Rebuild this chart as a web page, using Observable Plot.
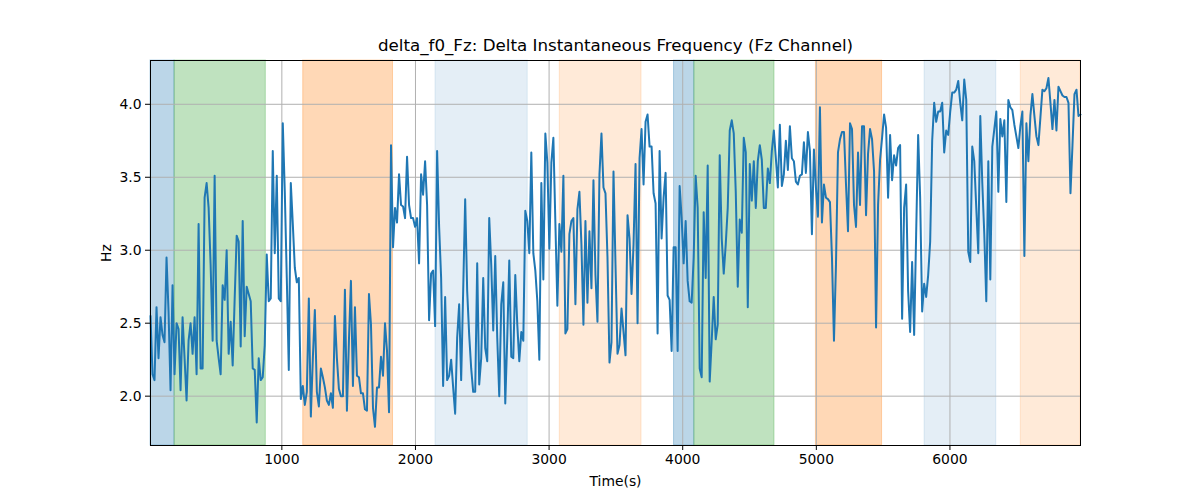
<!DOCTYPE html>
<html>
<head>
<meta charset="utf-8">
<script src="https://cdn.jsdelivr.net/npm/d3@7"></script>
<script src="https://cdn.jsdelivr.net/npm/@observablehq/plot@0.6"></script>
<style>
  html, body { margin: 0; padding: 0; background: white; }
  #chart { width: 1200px; height: 500px; }
</style>
</head>
<body>
<div id="chart"></div>
<script>
// Sampling grid of the recording (seconds)
const startTime = 17;
const sampleStep = 15;

// Delta instantaneous frequency (Hz), in six consecutive stretches
const seg1 = [2.55,2.15,2.11,2.61,2.26,2.54,2.42,2.37,2.95,2.58,2.04,2.76,2.15,2.5,2.46,2.04,2.54,2.26,1.97,2.38,2.5,2.29,2.54,2.15,3.18,2.19,2.19,3.36,3.46,3.29,2.90,2.38,3.51,2.38,2.26,2.15,2.76,2.66,3.0,2.29,2.51,2.21,2.67,3.10,3.06,2.34,3.20,2.41,2.75,2.70,2.65,2.19,2.18,1.82,2.26,2.11,2.13,2.35,2.97,2.65,2.67,3.68,2.98,3.51,2.67,2.65,3.87,3.40,2.81,2.18,3.46,3.18,2.88,2.78,2.81,1.98,2.07,1.94];
const seg2 = [2.03,2.67,1.86,2.26,2.59,2.03,1.93,2.19,2.13,2.06,1.97,1.94,2.02,1.92,2.55,2.26,2.05,2.0,2.0,2.73,1.90,2.38,2.79,2.07,2.61,2.14,2.13,2.02,2.02,1.91,1.90,2.70,2.49,1.92,1.79,2.06,2.06,2.27,2.14,2.50,2.31,1.89,3.72,3.02,3.29,3.19,3.52,3.31,3.30,3.22,3.64,3.31,3.22,3.22,3.16,3.22,2.91,3.52,3.38,3.61,3.31,2.52,2.84,2.86,2.48,3.68,3.16,2.81,2.07,2.68,2.11,2.14,2.25,2.06,1.88,2.40];
const seg3 = [2.63,2.11,2.72,3.35,2.72,2.42,2.19,2.03,2.03,2.91,2.08,2.26,2.81,2.33,2.24,3.22,2.90,2.45,2.96,2.40,2.0,2.63,2.78,1.95,2.40,2.93,2.27,2.26,2.83,2.49,2.24,2.44,2.38,3.27,3.20,2.98,3.67,2.98,2.86,2.65,2.25,3.46,2.80,3.80,3.60,3.01,3.60,3.77,3.19,2.62,3.18,2.99,3.51,2.43,2.46,3.11,3.20,3.22,2.63,3.28,3.40,3.04,2.49,3.20,2.64,3.13,2.74,3.48,2.83,2.51,3.52,3.80,3.43,3.39,2.95,2.23];
const seg4 = [2.37,3.54,2.90,2.29,2.35,2.60,2.44,2.28,3.24,3.08,2.70,3.04,3.59,2.50,3.63,3.83,3.45,3.88,3.93,3.71,3.71,3.39,3.32,2.43,3.68,3.08,3.36,3.53,2.69,2.66,2.31,3.02,3.02,2.31,3.44,3.22,2.91,3.20,2.79,2.65,2.64,2.95,3.51,3.29,2.19,2.13,3.26,2.81,3.58,2.10,2.38,2.68,2.39,2.49,3.65,3.08,2.84,3.04,3.29,3.82,3.89,3.80,3.40,2.75,3.21,3.12,3.77,3.67,2.61,3.59,3.34,3.61,3.29,3.61,3.72,3.62];
const seg5 = [3.29,3.29,3.56,3.46,3.68,3.82,3.63,3.43,3.86,3.44,3.52,3.75,3.55,3.85,3.63,3.61,3.47,3.45,3.51,3.52,3.74,3.53,3.81,3.68,3.11,3.69,3.43,3.23,3.98,3.19,3.45,3.36,3.35,3.33,2.95,2.38,2.90,3.67,3.76,3.81,3.81,3.45,3.13,3.87,3.83,3.31,3.16,3.67,3.31,3.85,3.85,3.24,3.66,3.83,3.76,3.54,2.47,3.31,3.62,3.77,3.93,3.84,3.36,3.79,3.48,3.65,3.58,3.70,3.72,2.53,3.29,3.45,2.72,2.44,2.92,2.42];
const seg6 = [3.11,3.79,3.36,2.58,2.77,2.68,2.83,3.06,3.75,4.01,3.88,3.95,3.95,4.01,3.67,3.82,3.79,3.95,4.08,4.08,4.10,4.16,4.01,3.89,4.17,4.03,2.99,2.92,3.71,3.61,3.29,2.98,3.92,3.46,3.11,2.65,3.61,2.80,3.71,3.83,3.95,3.40,3.90,3.78,3.89,3.33,4.03,3.98,3.96,3.86,3.78,3.70,3.85,3.95,2.96,3.87,3.61,3.92,4.07,3.92,3.78,3.72,3.91,4.10,4.09,4.11,4.18,4.01,3.83,4.03,3.82,4.12,4.09,4.06,4.05,4.05,4.01,3.39,3.72,4.07,4.10,3.92,3.93];

// Shaded phases (seconds) and their kinds
const phaseStart = [17, 197, 1160, 2150, 3080, 3935, 4087, 4997, 5810, 6530];
const phaseEnd   = [197, 880, 1832, 2840, 3692, 4087, 4687, 5492, 6347, 6977];
const phaseKind  = ["A", "B", "C", "D", "E", "A", "B", "C", "D", "E"];

// Axis ticks
const xTicks = [1000, 2000, 3000, 4000, 5000, 6000];
const yTicks = [2.0, 2.5, 3.0, 3.5, 4.0];

const titleText = "delta_f0_Fz: Delta Instantaneous Frequency (Fz Channel)";
const xLabel = "Time(s)";
const yLabel = "Hz";

// ---- build tables ----
const values = [...seg1, ...seg2, ...seg3, ...seg4, ...seg5, ...seg6];
const series = values.map((v, i) => ({t: startTime + i * sampleStep, hz: v}));
const phases = phaseStart.map((s, i) => ({x1: s, x2: phaseEnd[i], kind: phaseKind[i]}));

const kindColor = {A: "#1f77b4", B: "#2ca02c", C: "#ff7f0e", D: "#1f77b4", E: "#ff7f0e"};
const kindAlpha = {A: 0.3, B: 0.3, C: 0.3, D: 0.12, E: 0.16};

const xDomain = [startTime, startTime + (values.length - 1) * sampleStep];

const chart = Plot.plot({
  width: 1200,
  height: 500,
  marginLeft: 150,
  marginRight: 120,
  marginTop: 60,
  marginBottom: 55,
  style: {fontFamily: "'DejaVu Sans', sans-serif", fontSize: "13.9px", color: "black", background: "white", overflow: "visible"},
  x: {domain: xDomain},
  y: {domain: [1.662, 4.30]},
  marks: [
    ...phases.map(p => Plot.rect([p], {
      x1: "x1", x2: "x2",
      fill: kindColor[p.kind], fillOpacity: kindAlpha[p.kind],
      stroke: kindColor[p.kind], strokeOpacity: kindAlpha[p.kind], strokeWidth: 1
    })),
    Plot.gridX(xTicks, {stroke: "#b0b0b0", strokeOpacity: 1, strokeWidth: 1}),
    Plot.gridY(yTicks, {stroke: "#b0b0b0", strokeOpacity: 1, strokeWidth: 1}),
    Plot.line(series, {x: "t", y: "hz", stroke: "#1f77b4", strokeWidth: 2, strokeLinejoin: "round"}),
    Plot.frame({stroke: "black", strokeWidth: 1}),
    Plot.axisX(xTicks, {tickSize: 5, tickPadding: 4, tickFormat: d => String(d), label: null, fontSize: 13.9}),
    Plot.axisY(yTicks, {tickSize: 5, tickPadding: 4, tickFormat: d3.format(".1f"), label: null, fontSize: 13.9}),
    Plot.text([titleText], {frameAnchor: "top", dy: -15, lineAnchor: "middle", fontSize: 16.7, fill: "black"}),
    Plot.text([xLabel], {frameAnchor: "bottom", dy: 36, lineAnchor: "middle", fontSize: 13.9, fill: "black"}),
    Plot.text([yLabel], {frameAnchor: "left", dx: -44, rotate: -90, lineAnchor: "middle", textAnchor: "middle", fontSize: 13.9, fill: "black"})
  ]
});
document.getElementById("chart").appendChild(chart);
</script>
</body>
</html>
